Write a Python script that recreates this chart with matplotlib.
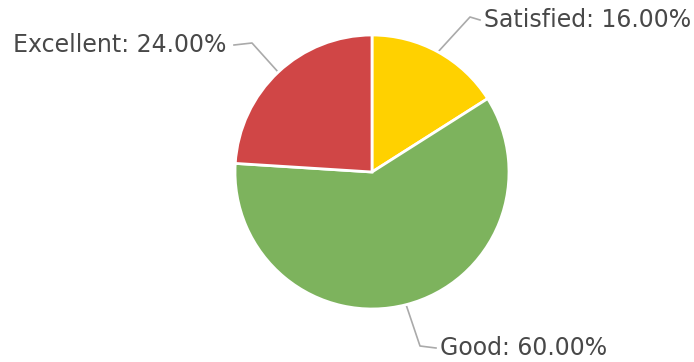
import numpy as np
import matplotlib.pyplot as plt

# Data ########################################################

labels = ["Satisfied", "Good", "Excellent"]
shares = [16.0, 60.0, 24.0]
colors = ["#FFD100", "#7DB35D", "#D04646"]

# label text placement (pixels, y from top) and leader elbow
text_pos = [(484, 20), (440, 348), (226, 45)]
text_ha = ["left", "left", "right"]
elbows = [(470, 17), (420, 346), (252, 43)]

# Plot ########################################################

W, H = 694, 362
fig = plt.figure(figsize=(W / 100, H / 100), dpi=100)
ax = fig.add_axes([0, 0, 1, 1])

cx, cy, r = 372, H - 172, 137
wedges, _ = ax.pie(shares, colors=colors, startangle=90, counterclock=False,
                   center=(cx, cy), radius=r, frame=True,
                   wedgeprops=dict(edgecolor="white", linewidth=2))
ax.set_xlim(0, W)
ax.set_ylim(0, H)
ax.axis("off")

for w, lab, val, tp, ha, el in zip(wedges, labels, shares, text_pos, text_ha, elbows):
    mid = np.deg2rad((w.theta1 + w.theta2) / 2)
    px, py = cx + r * np.cos(mid), cy + r * np.sin(mid)
    tx, ty = tp[0], H - tp[1]
    ex, ey = el[0], H - el[1]
    end_x = tx - 4 if ha == "left" else tx + 8
    ax.plot([px, ex, end_x], [py, ey, ty], color="#aaaaaa", lw=1.2, zorder=0)
    ax.text(tx, ty, f"{lab}: {val:.2f}%", ha=ha, va="center",
            fontsize=17, color="#484848", family="DejaVu Sans")

fig.savefig("out.png", dpi=100)
